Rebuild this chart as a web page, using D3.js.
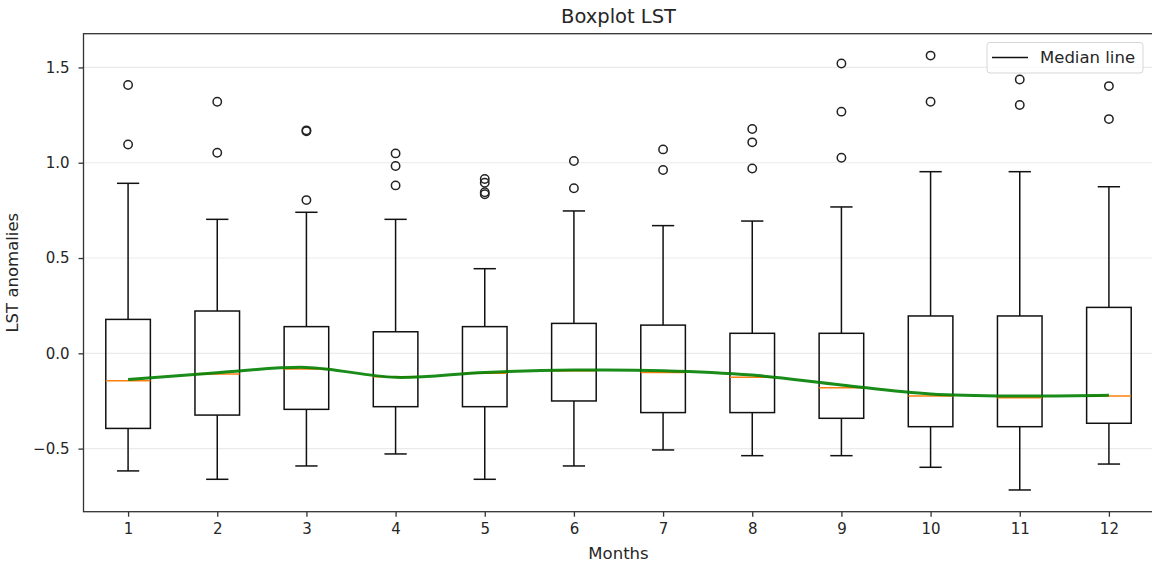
<!DOCTYPE html>
<html><head><meta charset="utf-8">
<script src="https://cdn.jsdelivr.net/npm/d3@7"></script>
<style>body{margin:0;background:#fff}svg{display:block}text{font-family:"DejaVu Sans",sans-serif;fill:#262626}</style>
</head><body>
<svg id="c" width="1152" height="562"></svg>
<script>
const months = [1,2,3,4,5,6,7,8,9,10,11,12];
const whiskerHigh = [0.892,0.703,0.740,0.703,0.444,0.747,0.670,0.694,0.768,0.953,0.953,0.874];
const q3 = [0.178,0.222,0.140,0.113,0.140,0.157,0.148,0.105,0.105,0.196,0.196,0.241];
const medians = [-0.144,-0.109,-0.082,-0.123,-0.105,-0.091,-0.100,-0.126,-0.180,-0.224,-0.233,-0.224];
const q1 = [-0.394,-0.324,-0.294,-0.280,-0.280,-0.250,-0.311,-0.311,-0.341,-0.385,-0.385,-0.367];
const whiskerLow = [-0.617,-0.661,-0.591,-0.528,-0.661,-0.591,-0.507,-0.537,-0.537,-0.598,-0.717,-0.581];
const outliers = [[1.408,1.096],[1.320,1.052],[1.170,1.165,0.804],[1.049,0.983,0.881],[0.915,0.895,0.845,0.835],[1.009,0.866],[1.070,0.962],[1.177,1.107,0.970],[1.521,1.268,1.026],[1.562,1.320],[1.437,1.303],[1.402,1.229]];
const smoothLine = [-0.137,-0.102,-0.074,-0.126,-0.100,-0.088,-0.091,-0.114,-0.166,-0.213,-0.224,-0.220];
const yTicks = [-0.5,0.0,0.5,1.0,1.5];

const svg = d3.select("#c");
const L=83.5, R=1153.5, T=33.7, B=511.7;
const x = d3.scaleLinear().domain([0.5,12.5]).range([L,R]);
const y = d3.scaleLinear().domain([-0.831,1.677]).range([B,T]);
const bw = 0.25; // half box width in data units

// grid
svg.append("g").selectAll("line").data(yTicks).join("line")
  .attr("x1",L).attr("x2",R).attr("y1",d=>y(d)).attr("y2",d=>y(d))
  .attr("stroke","#ebebeb").attr("stroke-width",1.2);

const g = svg.append("g");
months.forEach((m,i)=>{
  const cx = x(m);
  g.append("line").attr("x1",cx).attr("x2",cx).attr("y1",y(q3[i])).attr("y2",y(whiskerHigh[i])).attr("stroke","#111").attr("stroke-width",1.5);
  g.append("line").attr("x1",cx).attr("x2",cx).attr("y1",y(q1[i])).attr("y2",y(whiskerLow[i])).attr("stroke","#111").attr("stroke-width",1.5);
  g.append("line").attr("x1",x(m-bw/2)).attr("x2",x(m+bw/2)).attr("y1",y(whiskerHigh[i])).attr("y2",y(whiskerHigh[i])).attr("stroke","#111").attr("stroke-width",1.5);
  g.append("line").attr("x1",x(m-bw/2)).attr("x2",x(m+bw/2)).attr("y1",y(whiskerLow[i])).attr("y2",y(whiskerLow[i])).attr("stroke","#111").attr("stroke-width",1.5);
  g.append("rect").attr("x",x(m-bw)).attr("width",x(m+bw)-x(m-bw))
    .attr("y",y(q3[i])).attr("height",y(q1[i])-y(q3[i]))
    .attr("fill","none").attr("stroke","#111").attr("stroke-width",1.5);
  g.append("line").attr("x1",x(m-bw)).attr("x2",x(m+bw)).attr("y1",y(medians[i])).attr("y2",y(medians[i])).attr("stroke","#ff7f0e").attr("stroke-width",1.5);
  g.selectAll(null).data(outliers[i]).join("circle")
    .attr("cx",cx).attr("cy",d=>y(d)).attr("r",4.2)
    .attr("fill","none").attr("stroke","#222").attr("stroke-width",1.5);
});

svg.append("path").datum(months.map((m,i)=>[m,smoothLine[i]]))
  .attr("d",d3.line().x(d=>x(d[0])).y(d=>y(d[1])).curve(d3.curveCatmullRom))
  .attr("fill","none").attr("stroke","#008000").attr("stroke-width",3).attr("stroke-opacity",0.9);

svg.append("rect").attr("x",L).attr("y",T).attr("width",R-L).attr("height",B-T)
  .attr("fill","none").attr("stroke","#333").attr("stroke-width",1.3);

const yAxis = d3.axisLeft(y).tickValues(yTicks).tickSize(5).tickPadding(9).tickFormat(d3.format(".1f"));
const ya = svg.append("g").attr("transform",`translate(${L},0)`).call(yAxis);
const xAxis = d3.axisBottom(x).tickValues(months).tickSize(5).tickPadding(6.5).tickFormat(d3.format("d"));
const xa = svg.append("g").attr("transform",`translate(0,${B})`).call(xAxis);
[ya,xa].forEach(a=>{
  a.select(".domain").remove();
  a.selectAll(".tick line").attr("stroke","#333").attr("stroke-width",1.3);
  a.selectAll(".tick text").style("font-size","15px").style("font-family","DejaVu Sans").attr("fill","#262626");
});
ya.selectAll(".tick text").text(d=>d<0?"\u2212"+Math.abs(d).toFixed(1):d.toFixed(1));

svg.append("text").attr("x",(L+R)/2).attr("y",23).attr("text-anchor","middle").style("font-size","19.5px").text("Boxplot LST");
svg.append("text").attr("x",(L+R)/2).attr("y",559).attr("text-anchor","middle").style("font-size","16.5px").text("Months");
svg.append("text").attr("transform",`translate(18,${(T+B)/2}) rotate(-90)`).attr("text-anchor","middle").style("font-size","16.5px").text("LST anomalies");

const lg = svg.append("g");
lg.append("rect").attr("x",987).attr("y",42.5).attr("width",156).attr("height",30.5).attr("rx",3)
  .attr("fill","#fff").attr("fill-opacity",0.8).attr("stroke","#d6d6d6").attr("stroke-width",1);
lg.append("line").attr("x1",992).attr("x2",1028).attr("y1",57.5).attr("y2",57.5).attr("stroke","#111").attr("stroke-width",1.5);
lg.append("text").attr("x",1040).attr("y",63).style("font-size","16.5px").text("Median line");
</script>
</body></html>
